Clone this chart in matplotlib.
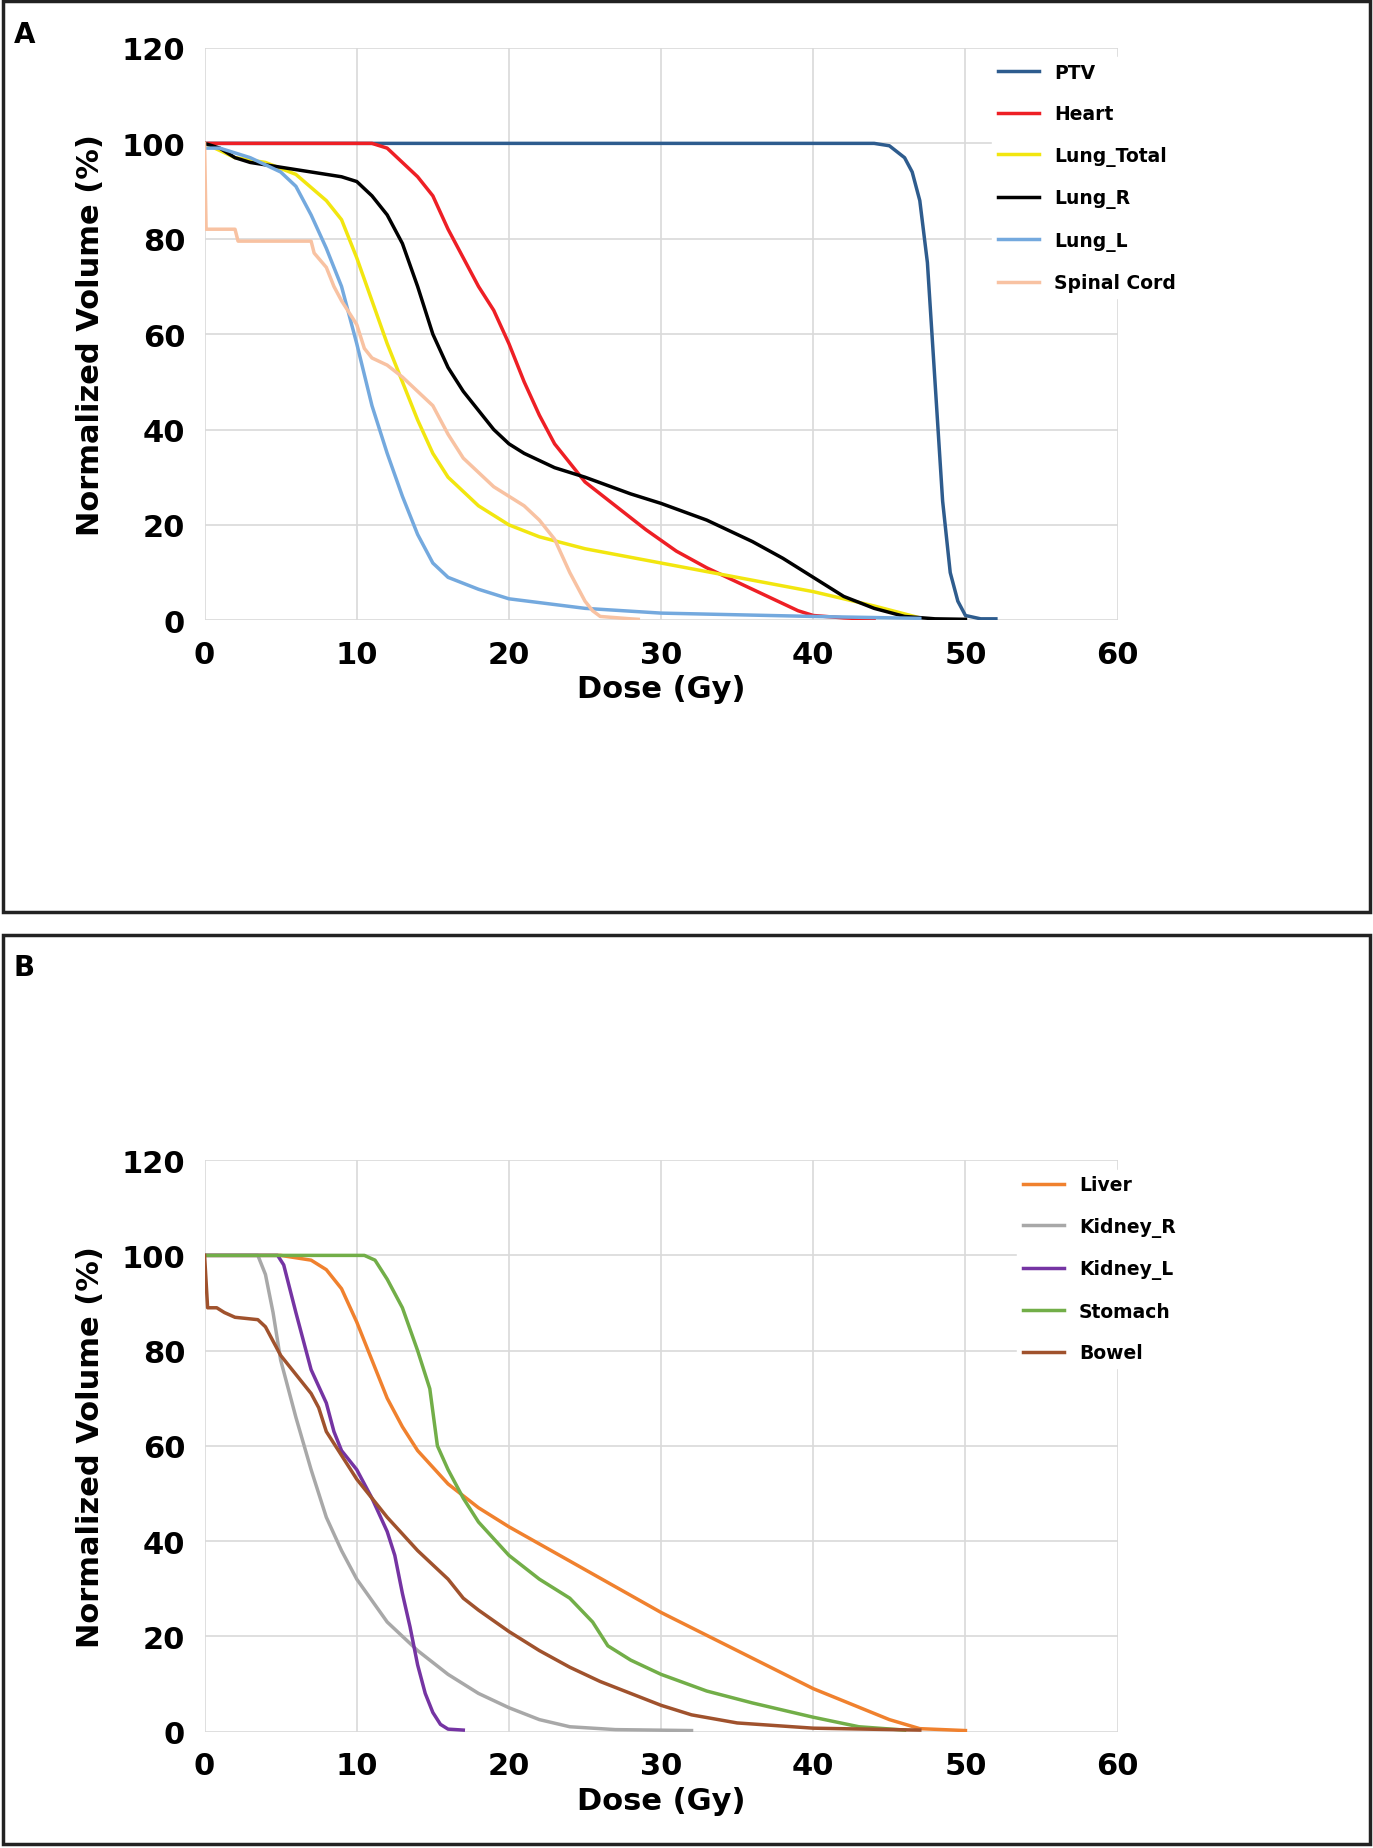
import numpy as np
import matplotlib.pyplot as plt
from matplotlib.patches import Rectangle

# Panel A dose-volume data (dose Gy, volume %)
ptv_x = [0, 44, 45, 46, 46.5, 47, 47.5, 48, 48.5, 49, 49.5, 50, 51, 52]
ptv_y = [100, 100, 99.5, 97, 94, 88, 75, 50, 25, 10, 4, 1, 0.3, 0.3]
heart_x = [0, 11, 12, 13, 14, 15, 16, 17, 18, 19, 20, 21, 22, 23, 24, 25, 27, 29, 31, 33, 35, 37, 39, 40, 42, 44]
heart_y = [100, 100, 99, 96, 93, 89, 82, 76, 70, 65, 58, 50, 43, 37, 33, 29, 24, 19, 14.5, 11, 8, 5, 2, 1, 0.5, 0.2]
lungt_x = [0, 2, 4, 6, 8, 9, 10, 11, 12, 13, 14, 15, 16, 18, 20, 22, 25, 30, 35, 40, 44, 47]
lungt_y = [100, 97, 96, 93.5, 88, 84, 76, 67, 58, 50, 42, 35, 30, 24, 20, 17.5, 15, 12, 9, 6, 3, 0.5]
lungr_x = [0, 1, 2, 3, 5, 7, 9, 10, 11, 12, 13, 14, 15, 16, 17, 18, 19, 20, 21, 23, 25, 28, 30, 33, 36, 38, 40, 42, 44, 46, 48, 50]
lungr_y = [100, 99, 97, 96, 95, 94, 93, 92, 89, 85, 79, 70, 60, 53, 48, 44, 40, 37, 35, 32, 30, 26.5, 24.5, 21, 16.5, 13, 9, 5, 2.5, 0.8, 0.3, 0.2]
lungl_x = [0, 1, 3, 5, 6, 7, 8, 9, 10, 11, 12, 13, 14, 15, 16, 18, 20, 25, 30, 40, 47]
lungl_y = [99, 99, 97, 94, 91, 85, 78, 70, 58, 45, 35, 26, 18, 12, 9, 6.5, 4.5, 2.5, 1.5, 0.8, 0.4]
cord_x = [0, 0.1, 2, 2.2, 7, 7.2, 8, 8.5, 9, 10, 10.5, 11, 12, 13, 14, 15, 16, 17, 18, 19, 20, 21, 22, 23, 24, 25, 25.5, 26, 28, 28.5]
cord_y = [100, 82, 82, 79.5, 79.5, 77, 74, 70, 67, 62, 57, 55, 53.5, 51, 48, 45, 39, 34, 31, 28, 26, 24, 21, 17, 10, 4, 2, 0.8, 0.3, 0.2]

# Panel B
liver_x = [0, 5, 7, 8, 9, 10, 11, 12, 13, 14, 15, 16, 18, 20, 25, 30, 35, 40, 45, 47, 50]
liver_y = [100, 100, 99, 97, 93, 86, 78, 70, 64, 59, 55.5, 52, 47, 43, 34, 25, 17, 9, 2.5, 0.6, 0.2]
kidr_x = [0, 3.5, 4, 4.5, 5, 6, 7, 8, 9, 10, 12, 14, 16, 18, 20, 22, 24, 27, 32]
kidr_y = [100, 100, 96, 88, 78, 66, 55, 45, 38, 32, 23, 17, 12, 8, 5, 2.5, 1, 0.4, 0.2]
kidl_x = [0, 4.8, 5.2, 6, 7, 8, 8.5, 9, 10, 11, 12, 12.5, 13, 13.5, 14, 14.5, 15, 15.5, 16, 17]
kidl_y = [100, 100, 98, 88, 76, 69, 63, 59, 55, 49, 42, 37, 29, 22, 14, 8, 4, 1.5, 0.5, 0.3]
stom_x = [0, 10.5, 11.2, 12, 13, 14, 14.8, 15.3, 16, 17, 18, 20, 22, 24, 25.5, 26.5, 28, 30, 33, 36, 40, 43, 46]
stom_y = [100, 100, 99, 95, 89, 80, 72, 60, 55, 49, 44, 37, 32, 28, 23, 18, 15, 12, 8.5, 6, 3, 1, 0.3]
bowel_x = [0, 0.2, 0.8, 1.3, 2, 3.5, 4, 5, 6, 7, 7.5, 8, 9, 10, 12, 14, 16, 17, 18, 20, 22, 24, 26, 28, 30, 32, 35, 40, 47]
bowel_y = [100, 89, 89, 88, 87, 86.5, 85, 79, 75, 71, 68, 63, 58, 53, 45, 38, 32, 28, 25.5, 21, 17, 13.5, 10.5, 8, 5.5, 3.5, 1.8, 0.7, 0.3]

series_a = [("PTV", ptv_x, ptv_y, "#2E5C8E"), ("Heart", heart_x, heart_y, "#EE1F25"),
            ("Lung_Total", lungt_x, lungt_y, "#F2E60F"), ("Lung_R", lungr_x, lungr_y, "#000000"),
            ("Lung_L", lungl_x, lungl_y, "#74A9DE"), ("Spinal Cord", cord_x, cord_y, "#F8C2A2")]
series_b = [("Liver", liver_x, liver_y, "#F0812E"), ("Kidney_R", kidr_x, kidr_y, "#A8A8A8"),
            ("Kidney_L", kidl_x, kidl_y, "#7534A3"), ("Stomach", stom_x, stom_y, "#72AE48"),
            ("Bowel", bowel_x, bowel_y, "#A0522D")]

fig = plt.figure(figsize=(13.73, 18.49), dpi=100)

def panel(rect, series, letter, box):
    fig.add_artist(Rectangle((box[0], box[1]), box[2], box[3], transform=fig.transFigure,
                             fill=False, edgecolor="#222222", lw=2.5))
    fig.text(box[0] + 0.008, box[1] + box[3] - 0.022, letter, fontsize=20, fontweight="bold")
    ax = fig.add_axes(rect)
    for name, x, y, c in series:
        ax.plot(x, y, color=c, lw=2.5, label=name)
    ax.set_xlim(0, 60)
    ax.set_ylim(0, 120)
    ax.set_xticks(range(0, 61, 10))
    ax.set_yticks(range(0, 121, 20))
    ax.grid(True, color="#D9D9D9", lw=1.2)
    ax.set_axisbelow(True)
    for s in ax.spines.values():
        s.set_visible(False)
    ax.tick_params(length=0, labelsize=22, pad=14)
    for lab in ax.get_xticklabels() + ax.get_yticklabels():
        lab.set_fontweight("bold")
    ax.set_xlabel("Dose (Gy)", fontsize=22, fontweight="bold")
    ax.set_ylabel("Normalized Volume (%)", fontsize=22, fontweight="bold", labelpad=12)
    leg = ax.legend(loc="upper right", bbox_to_anchor=(1.08, 1.0), frameon=True, fontsize=13.5,
                    handlelength=2.2, labelspacing=1.2, borderpad=0.3)
    leg.get_frame().set_edgecolor("white")
    leg.get_frame().set_alpha(1)
    for t in leg.get_texts():
        t.set_fontweight("bold")
    return ax

panel([0.149, 0.664, 0.665, 0.3095], series_a, "A", [0.002, 0.506, 0.996, 0.493])
panel([0.149, 0.063, 0.665, 0.309], series_b, "B", [0.002, 0.002, 0.996, 0.492])

fig.savefig("out.png", dpi=100)
